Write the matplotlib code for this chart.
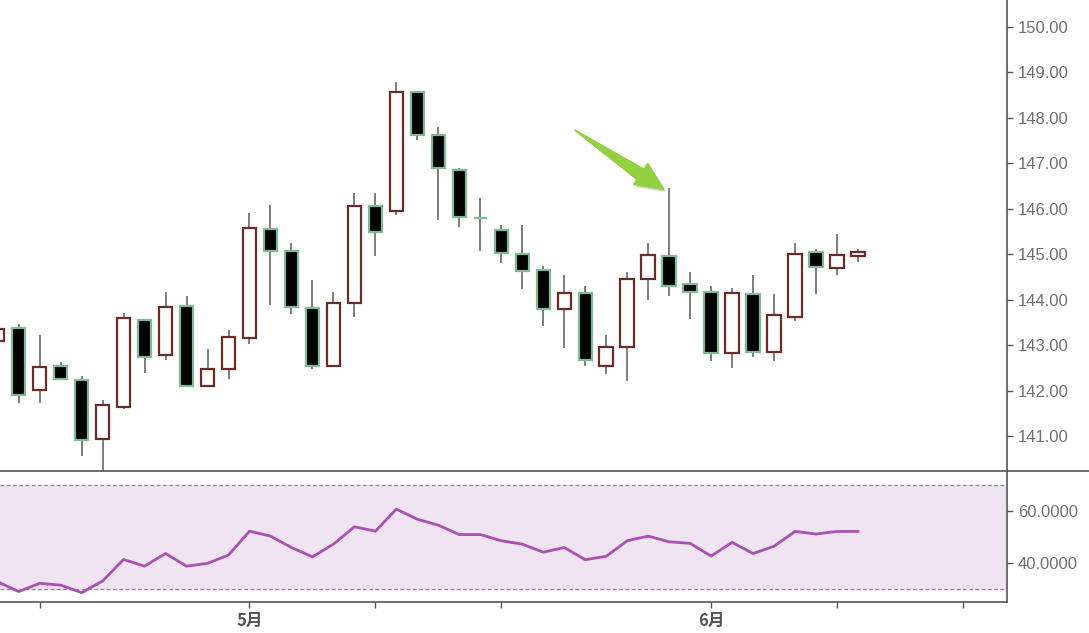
import matplotlib
matplotlib.use('Agg')
import matplotlib.pyplot as plt
import matplotlib.patheffects as pe
from matplotlib.ticker import FormatStrFormatter
from matplotlib.lines import Line2D

# candle data, index 0 = first full candle (index -1 is cut at the left edge)
opens = [143.10, 143.38, 142.01, 142.54, 142.23, 140.93, 141.63, 143.56, 142.78, 143.87,
         142.09, 142.47, 143.16, 145.56, 145.08, 143.82, 142.55, 143.93, 146.06, 145.95,
         148.56, 147.62, 146.85, 145.80, 145.53, 145.01, 144.65, 143.79, 144.15, 142.54,
         142.96, 144.46, 144.97, 144.35, 144.17, 142.82, 144.12, 142.85, 143.62, 145.05,
         144.69, 144.97]
closes = [143.35, 141.91, 142.51, 142.25, 140.91, 141.68, 143.59, 142.74, 143.83, 142.09,
          142.48, 143.17, 145.57, 145.08, 143.83, 142.55, 143.93, 146.06, 145.49, 148.56,
          147.62, 146.89, 145.82, 145.80, 145.02, 144.63, 143.79, 144.15, 142.67, 142.96,
          144.46, 144.98, 144.31, 144.17, 142.83, 144.15, 142.85, 143.66, 145.01, 144.72,
          144.98, 145.05]
highs = [143.40, 143.46, 143.22, 142.63, 142.31, 141.79, 143.70, 143.58, 144.17, 144.07,
         142.91, 143.33, 145.90, 146.08, 145.24, 144.43, 144.16, 146.34, 146.34, 148.78,
         148.59, 147.80, 146.89, 146.24, 145.64, 145.64, 144.74, 144.54, 144.30, 143.22,
         144.61, 145.24, 146.45, 144.61, 144.30, 144.26, 144.54, 144.12, 145.24, 145.12,
         145.44, 145.12]
lows = [143.05, 141.72, 141.72, 142.23, 140.55, 140.10, 141.59, 142.39, 142.67, 142.07,
        142.07, 142.25, 143.02, 143.88, 143.68, 142.47, 142.54, 143.61, 144.97, 145.87,
        147.50, 145.76, 145.59, 145.07, 144.80, 144.23, 143.43, 142.94, 142.53, 142.36,
        142.22, 143.99, 144.09, 143.57, 142.66, 142.49, 142.73, 142.66, 143.54, 144.12,
        144.54, 144.82]
rsi = [32.8, 29.0, 32.2, 31.5, 28.6, 33.1, 41.4, 38.8, 43.7, 38.8,
       39.9, 43.1, 52.3, 50.4, 46.0, 42.4, 47.3, 54.0, 52.3, 60.8,
       56.9, 54.6, 51.0, 51.0, 48.6, 47.3, 44.2, 46.0, 41.3, 42.6,
       48.6, 50.4, 48.2, 47.6, 42.7, 48.0, 43.7, 46.5, 52.2, 51.2,
       52.2, 52.2]
x_ticks = [1, 11, 17, 23, 33, 39, 45]
x_tick_labels = ['', '5月', '', '', '6月', '', '']
price_ticks = [141, 142, 143, 144, 145, 146, 147, 148, 149, 150]
rsi_ticks = [40, 60]
rsi_bands = [30, 70]

idx = list(range(-1, len(opens) - 1))

fig = plt.figure(figsize=(10.89, 6.33), dpi=100, facecolor='white')
ax = fig.add_axes([0, 0.2559, 0.9247, 0.7441])
ax2 = fig.add_axes([0, 0.049, 0.9247, 0.2069], sharex=ax)

axis_col = '#555555'
text_col = '#707070'

# wicks
ax.vlines(idx, lows, highs, color='#7d7d7d', linewidth=1.4, zorder=1)

# bodies
up = [c > o for o, c in zip(opens, closes)]
bottoms = [min(o, c) for o, c in zip(opens, closes)]
heights = [abs(c - o) for o, c in zip(opens, closes)]
face = ['white' if u else 'black' for u in up]
edge = ['#6e2a26' if u else '#7fbb98' for u in up]
ax.bar(idx, heights, bottom=bottoms, width=0.64, color=face,
       edgecolor=edge, linewidth=1.6, zorder=2)

ax.set_xlim(-0.89, 47.1)
ax.set_ylim(140.23, 150.59)
ax.yaxis.tick_right()
ax.set_yticks(price_ticks)
ax.yaxis.set_major_formatter(FormatStrFormatter('%.2f'))
ax.tick_params(axis='y', colors=axis_col, labelcolor=text_col, labelsize=12,
               length=4, width=1, pad=4)
ax.tick_params(axis='x', bottom=False, labelbottom=False)
for lab in ax.get_yticklabels():
    lab.set_family('Liberation Sans')
for s in ['left', 'top', 'bottom']:
    ax.spines[s].set_visible(False)
ax.spines['right'].set_color(axis_col)
ax.spines['right'].set_linewidth(1.2)

# green arrow pointing at the long upper wick:
# a thin tapering shaft (wedge, point at the tail) plus an arrow head
arrow_tail = (26.5, 147.73)
arrow_base = (29.75, 146.72)
arrow_tip = (30.74, 146.43)
arrow_col = '#93d13e'
shadow = [pe.withSimplePatchShadow(offset=(1.5, -2), alpha=0.22), pe.Normal()]
ax.annotate('', xy=arrow_tail, xytext=arrow_base,
            arrowprops=dict(arrowstyle='wedge,tail_width=0.5,shrink_factor=0.5',
                            color=arrow_col, mutation_scale=18, shrinkA=0, shrinkB=0,
                            path_effects=shadow),
            zorder=5)
ax.annotate('', xy=arrow_tip, xytext=(29.2, 146.9),
            arrowprops=dict(arrowstyle='simple,head_length=1.1,head_width=1.0,tail_width=0.4',
                            color=arrow_col, mutation_scale=18, shrinkA=0, shrinkB=0,
                            path_effects=shadow),
            zorder=5)

# RSI panel
ax2.axhspan(rsi_bands[0], rsi_bands[1], color='#f0e4f2', zorder=0)
for b in rsi_bands:
    ax2.axhline(b, color='#8a8a8a', linewidth=0.9, linestyle=(0, (3, 2)), zorder=1)
ax2.plot(idx, rsi, color='#aa50b4', linewidth=2.0, zorder=3)
ax2.set_ylim(25, 75.5)
ax2.yaxis.tick_right()
ax2.set_yticks(rsi_ticks)
ax2.yaxis.set_major_formatter(FormatStrFormatter('%.4f'))
ax2.tick_params(axis='y', colors=axis_col, labelcolor=text_col, labelsize=12,
                length=4, width=1, pad=4)
ax2.set_xticks(x_ticks)
ax2.set_xticklabels(x_tick_labels)
ax2.tick_params(axis='x', colors=axis_col, labelcolor='#555555', length=4, width=1, pad=3)
for lab in ax2.get_xticklabels():
    lab.set_family(['Noto Sans CJK SC', 'DejaVu Sans'])
    lab.set_fontweight('bold')
    lab.set_fontsize(12)
for lab in ax2.get_yticklabels():
    lab.set_family('Liberation Sans')
for s in ['left', 'top']:
    ax2.spines[s].set_visible(False)
for s in ['right', 'bottom']:
    ax2.spines[s].set_color(axis_col)
    ax2.spines[s].set_linewidth(1.2)

# separator line between the two panels runs the full width
fig.add_artist(Line2D([0, 1], [0.2559, 0.2559], transform=fig.transFigure,
                      color=axis_col, linewidth=1.2))

fig.savefig('out.png', dpi=100, facecolor='white')
